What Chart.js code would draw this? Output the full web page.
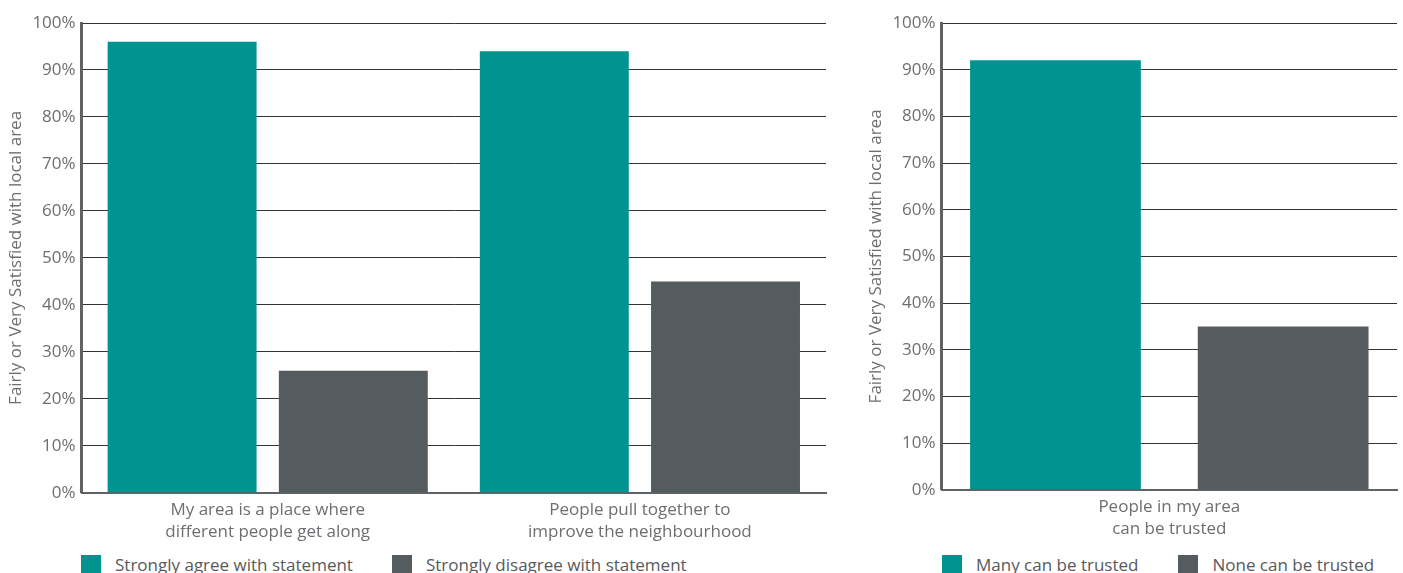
<!DOCTYPE html>
<html>
<head>
<meta charset="utf-8">
<script src="https://cdn.jsdelivr.net/npm/chart.js@4.4.1/dist/chart.umd.min.js"></script>
<style>
  body { margin: 0; background: #fff; font-family: "Open Sans", sans-serif; }
  .box { position: absolute; top: 0; }
  .legend { position: absolute; top: 553px; font-size: 17px; color: #58595b; white-space: nowrap; }
  .legend span.sw { display: inline-block; width: 20px; height: 20px; vertical-align: -4px; margin-right: 14px; }
  .legend span.item { display: inline-block; }
</style>
</head>
<body>
<div class="box" style="left:0;width:840px;height:549px"><canvas id="chartLeft"></canvas></div>
<div class="box" style="left:860px;width:543px;height:546px"><canvas id="chartRight"></canvas></div>
<div class="legend" id="legendLeft" style="left:81px"></div>
<div class="legend" id="legendRight" style="left:942px"></div>
<script>
const teal = '#009390';
const grey = '#555c5f';

// left chart
const leftCategories = [
    ['My area is a place where', 'different people get along'],
    ['People pull together to', 'improve the neighbourhood']
];
const leftSeries = ['Strongly agree with statement', 'Strongly disagree with statement'];
const agreeValues = [96, 94];
const disagreeValues = [26, 45];

// right chart
const rightCategories = [['People in my area', 'can be trusted']];
const rightSeries = ['Many can be trusted', 'None can be trusted'];
const manyValues = [92];
const noneValues = [35];

const yTitle = 'Fairly or Very Satisfied with local area';

Chart.defaults.font.family = '"Open Sans", sans-serif';
Chart.defaults.color = '#6d6e71';
Chart.defaults.animation = false;

function makeOptions(padRight, catPct, barPct) {
    return {
        responsive: true,
        maintainAspectRatio: false,
        layout: { padding: { top: 23, right: padRight, left: 6 } },
        plugins: { legend: { display: false }, tooltip: { enabled: false } },
        datasets: { bar: { categoryPercentage: catPct, barPercentage: barPct } },
        scales: {
            x: {
                grid: { display: false, drawTicks: false },
                border: { color: '#5f6366', width: 2 },
                ticks: { font: { size: 17, lineHeight: 1.3 }, color: '#6d6e71', padding: 6, maxRotation: 0 }
            },
            y: {
                min: 0,
                max: 100,
                ticks: { stepSize: 10, font: { size: 17 }, color: '#6d6e71', padding: 6, callback: v => v + '%' },
                grid: { color: '#333', lineWidth: 1, drawTicks: false },
                border: { color: '#5f6366', width: 3 },
                title: { display: true, text: yTitle, font: { size: 17 }, color: '#6d6e71', padding: 0 }
            }
        }
    };
}

new Chart(document.getElementById('chartLeft').getContext('2d'), {
    type: 'bar',
    data: {
        labels: leftCategories,
        datasets: [
            { label: leftSeries[0], data: agreeValues, backgroundColor: teal },
            { label: leftSeries[1], data: disagreeValues, backgroundColor: grey }
        ]
    },
    options: makeOptions(14, 0.92, 0.87)
});

new Chart(document.getElementById('chartRight').getContext('2d'), {
    type: 'bar',
    data: {
        labels: rightCategories,
        datasets: [
            { label: rightSeries[0], data: manyValues, backgroundColor: teal },
            { label: rightSeries[1], data: noneValues, backgroundColor: grey }
        ]
    },
    options: makeOptions(6, 1.0, 0.75)
});

function buildLegend(id, names, colors, gap) {
    const el = document.getElementById(id);
    names.forEach((n, i) => {
        const item = document.createElement('span');
        item.className = 'item';
        if (i > 0) item.style.marginLeft = gap + 'px';
        item.innerHTML = '<span class="sw" style="background:' + colors[i] + '"></span>' + n;
        el.appendChild(item);
    });
}
buildLegend('legendLeft', leftSeries, [teal, grey], 39);
buildLegend('legendRight', rightSeries, [teal, grey], 40);
</script>
</body>
</html>
